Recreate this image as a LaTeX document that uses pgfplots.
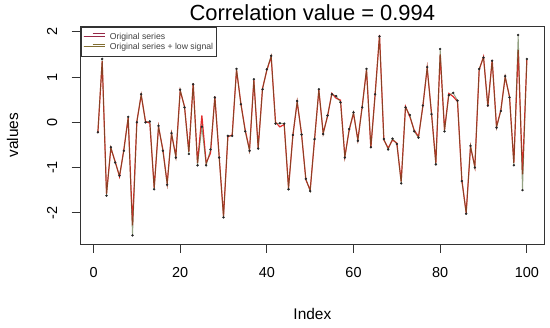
\documentclass[border=0pt]{standalone}
\usepackage{fontspec}
\setmainfont{Liberation Sans}
\usepackage{pgfplots}
\usepackage{pgfplotstable}
\pgfplotsset{compat=1.18}
\definecolor{origred}{RGB}{226,45,45}
\definecolor{lowgreen}{RGB}{60,85,30}
\definecolor{legred}{RGB}{150,40,70}
\definecolor{legolive}{RGB}{130,110,50}
\pgfplotstableread{
x y1 y2
1 -0.24 -0.22
2 1.35 1.40
3 -1.58 -1.62
4 -0.57 -0.55
5 -0.87 -0.89
6 -1.2 -1.18
7 -0.6 -0.63
8 0.1 0.12
9 -2.28 -2.5
10 0.02 0.0
11 0.6 0.62
12 0.02 0.0
13 -0.02 0.02
14 -1.45 -1.48
15 -0.1 -0.08
16 -0.6 -0.63
17 -1.35 -1.38
18 -0.25 -0.24
19 -0.75 -0.78
20 0.7 0.72
21 0.35 0.33
22 -0.65 -0.7
23 0.86 0.84
24 -0.9 -0.95
25 0.15 -0.1
26 -0.9 -0.95
27 -0.68 -0.6
28 0.57 0.55
29 -0.76 -0.78
30 -2.08 -2.1
31 -0.32 -0.3
32 -0.28 -0.3
33 1.16 1.18
34 0.42 0.4
35 -0.17 -0.2
36 -0.61 -0.63
37 0.93 0.95
38 -0.57 -0.58
39 0.75 0.73
40 1.15 1.17
41 1.45 1.47
42 0.0 -0.03
43 -0.1 -0.02
44 -0.05 -0.03
45 -1.45 -1.48
46 -0.3 -0.28
47 0.45 0.47
48 -0.25 -0.27
49 -1.27 -1.25
50 -1.5 -1.52
51 -0.39 -0.37
52 0.71 0.73
53 -0.24 -0.26
54 0.13 0.15
55 0.64 0.62
56 0.53 0.58
57 0.49 0.44
58 -0.76 -0.78
59 -0.17 -0.15
60 0.2 0.22
61 -0.39 -0.41
62 0.35 0.33
63 1.16 1.18
64 -0.57 -0.55
65 0.64 0.62
66 1.93 1.9
67 -0.39 -0.37
68 -0.57 -0.6
69 -0.39 -0.36
70 -0.46 -0.48
71 -1.31 -1.35
72 0.35 0.33
73 0.12 0.16
74 -0.17 -0.2
75 -0.32 -0.34
76 0.35 0.37
77 1.2 1.22
78 0.2 0.18
79 -0.9 -0.93
80 1.5 1.62
81 -0.17 -0.2
82 0.64 0.6
83 0.57 0.65
84 0.46 0.48
85 -1.27 -1.3
86 -2.0 -2.02
87 -0.54 -0.52
88 -0.98 -1.0
89 1.16 1.18
90 1.45 1.43
91 0.35 0.37
92 1.38 1.36
93 -0.1 -0.12
94 0.27 0.25
95 1.0 1.02
96 0.57 0.55
97 -0.9 -0.95
98 1.6 1.93
99 -1.15 -1.5
100 1.38 1.4
}\series
\begin{document}
\begin{tikzpicture}
\begin{axis}[
  at={(80.7bp,84bp)}, anchor=south west,
  scale only axis, width=463.3bp, height=217.3bp,
  xmin=-2.96, xmax=103.96, ymin=-2.69, ymax=2.113,
  axis line style={black!80, line width=0.8bp},
  xtick={0,20,40,60,80,100}, ytick={-2,-1,0,1,2},
  tick align=outside, xtick pos=bottom, ytick pos=left,
  major tick length=9bp,
  tick style={black!80, line width=0.8bp},
  /pgf/number format/assume math mode=true,
  ticklabel style={font=\fontsize{14.5}{17}\selectfont},
  xticklabel shift=11bp,
  yticklabel style={rotate=90, anchor=south},
  yticklabel shift=11bp,
  every axis title/.style={at={(axis description cs:0.5,1)}, anchor=base, yshift=6bp, font=\fontsize{22}{26}\selectfont},
  title={Correlation value = 0.994},
  every axis x label/.style={at={(axis description cs:0.5,0)}, anchor=base, yshift=-75bp, font=\fontsize{15.5}{18}\selectfont},
  xlabel={Index},
  every axis y label/.style={at={([xshift=-62.7bp]axis description cs:0,0.5)}, rotate=90, anchor=base, font=\fontsize{15.5}{18}\selectfont},
  ylabel={values},
  legend style={at={(0,1)}, anchor=north west, draw=black!80, line width=0.6bp,
    inner xsep=2.6bp, inner ysep=4bp, row sep=0bp, column sep=4.1bp,
    font=\fontsize{8.7}{10}\selectfont, text=black!75,
    nodes={inner sep=0.5bp, text height=7.7bp, text depth=1.8bp}},
  legend cell align=left,
  legend image code/.code={\path (0bp,0bp) rectangle (20.9bp,0bp); \draw[#1, line width=0.8bp] (8.6bp,2.5bp) -- (20.9bp,2.5bp);},
]
\addlegendimage{legred}
\addlegendentry{Original series}
\addlegendimage{legolive}
\addlegendentry{Original series + low signal}
\addplot[origred, line width=1.2bp, forget plot] table[x=x, y=y1] {\series};
\addplot[lowgreen, line width=0.9bp, opacity=0.55, forget plot] table[x=x, y=y2] {\series};
\addplot[only marks, mark=*, mark size=1.0bp, black!85, forget plot] table[x=x, y=y2] {\series};
\end{axis}
\pgfresetboundingbox
\path[use as bounding box] (0,0) rectangle (550bp,328bp);
\end{tikzpicture}
\end{document}
